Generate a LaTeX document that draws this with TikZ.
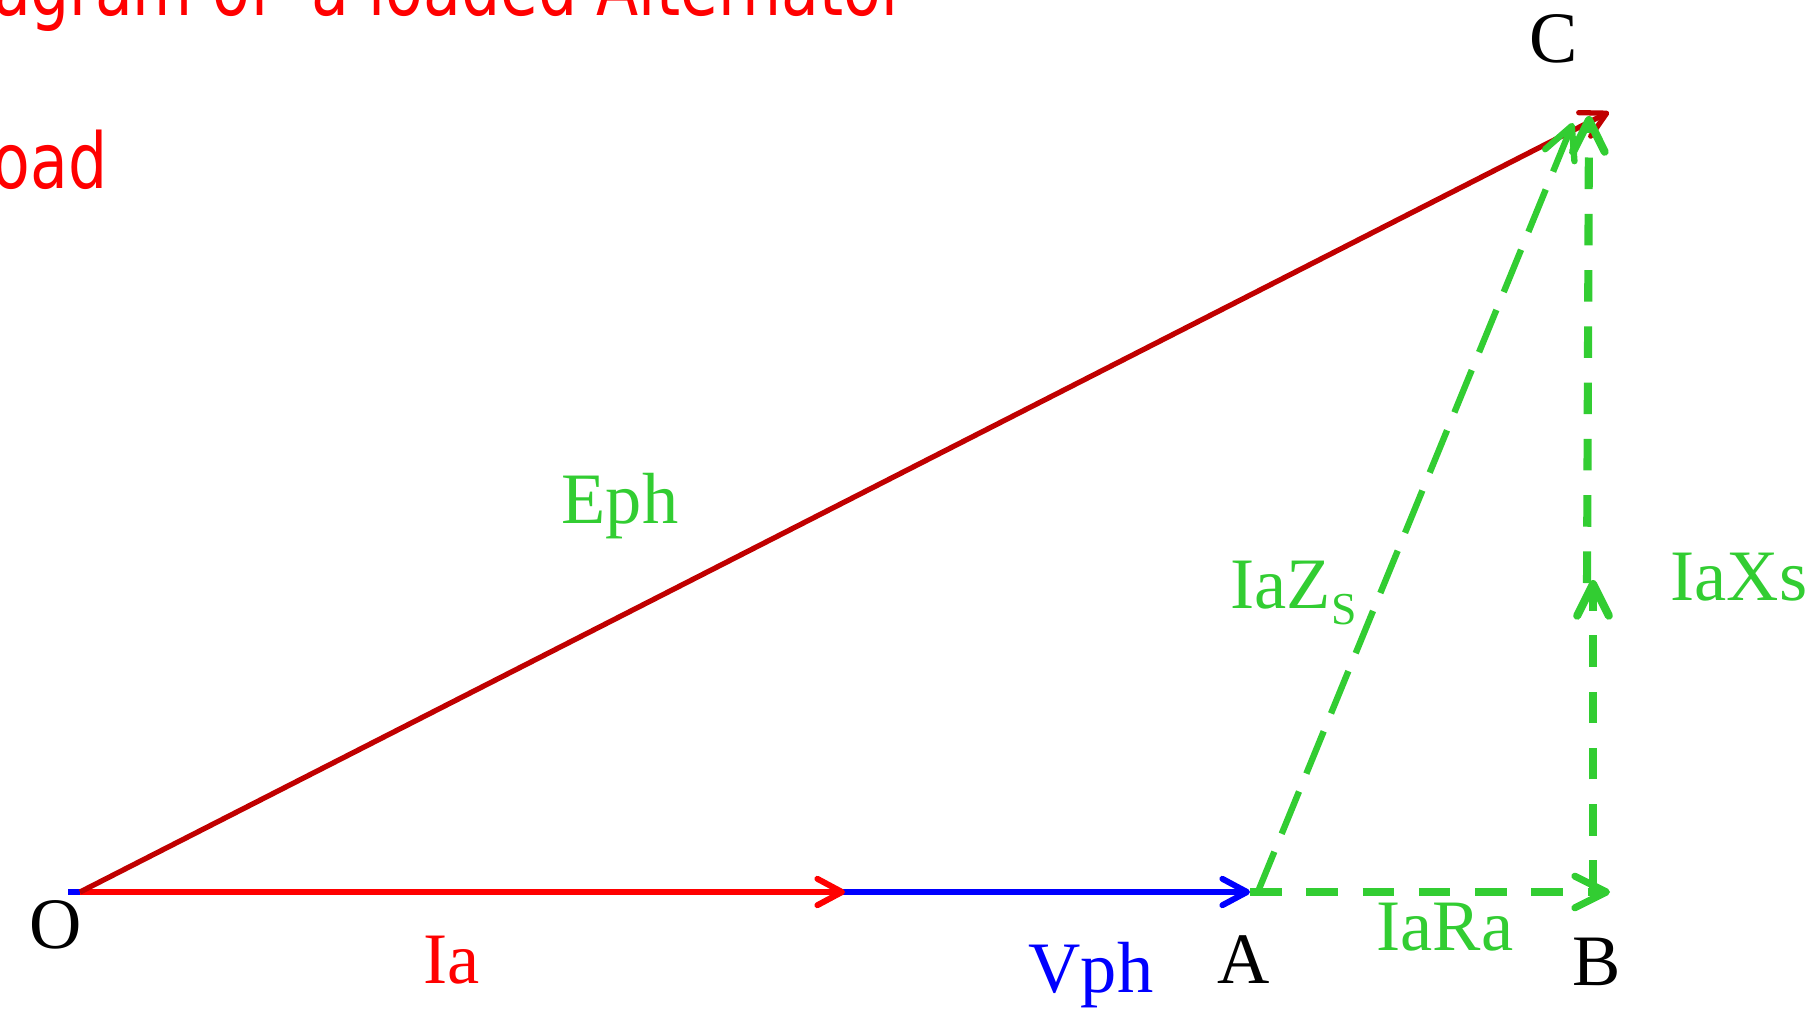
\documentclass[tikz,border=0pt]{standalone}
\usepackage{fontspec}
\usepackage{graphicx}
\setmainfont{Liberation Serif}
\newfontfamily\titlefont{DejaVu Sans}
\usetikzlibrary{arrows.meta}
\definecolor{verde}{RGB}{50,205,50}
\definecolor{rosso}{RGB}{255,0,0}
\definecolor{rossoscuro}{RGB}{192,0,0}
\definecolor{blu}{RGB}{0,0,255}
\begin{document}
\begin{tikzpicture}[x=0.01cm,y=-0.01cm,
    freccia/.style={-{Straight Barb[round,length=7pt,width=7.5pt]},line width=1.7pt},
    tratteggio/.style={-{Straight Barb[round,length=9pt,width=9pt]},verde,line width=2pt,dash pattern=on 9pt off 7pt},
    etichetta/.style={font=\fontsize{20.6}{24}\selectfont,inner sep=0pt,anchor=base},
    titolo/.style={font=\titlefont\fontsize{21.9}{26}\selectfont,text=rosso,inner sep=0pt,anchor=base east}]
    \useasboundingbox (0,0) rectangle (1817,1008);
    \clip (0,0) rectangle (1817,1008);
            %titolo tagliato
            \node[titolo] (tit1) at (907,15) {\scalebox{0.8}[1]{Diagram of~~a loaded Alternator}};
            \node[titolo] (tit2) at (108,188) {\scalebox{0.8}[1]{Load}};
            %punti
            \coordinate (O) at (68,892);
            \coordinate (O1) at (80,892);
            \coordinate (I) at (845,892);
            \coordinate (A) at (1250,892);
            \coordinate (A1) at (1257,894);
            \coordinate (B) at (1610,892);
            \coordinate (B1) at (1593,892);
            \coordinate (M) at (1593,580);
            \coordinate (M1) at (1587,583);
            \coordinate (C) at (1609,112);
            \coordinate (C1) at (1573,123);
            \coordinate (C2) at (1589,116);
            %disegno Vph
            \draw[freccia,blu] (O) -- (A);
            %disegno Ia
            \draw[freccia,rosso] (O1) -- (I);
            %disegno Eph
            \draw[freccia,rossoscuro,line width=1.5pt] (O1) -- (C);
            %disegno cadute
            \draw[tratteggio] (A) -- (B);
            \draw[tratteggio,line width=1.8pt,dash pattern=on 13pt off 5.5pt] (A1) -- (C1);
            \draw[tratteggio,line width=2.3pt] (B1) -- (M);
            \draw[tratteggio,line width=2.3pt] (M1) -- (C2);
            %etichette
            \node[etichetta] (lC) at (1554,62) {C};
            \node[etichetta] (lO) at (56,948) {O};
            \node[etichetta] (lA) at (1244,983) {A};
            \node[etichetta] (lB) at (1597,985) {B};
            \node[etichetta,text=rosso] (lIa) at (452,983) {Ia};
            \node[etichetta,text=blu] (lVph) at (1091,992) {Vph};
            \node[etichetta,text=verde] (lIaRa) at (1445,950) {IaRa};
            \node[etichetta,text=verde] (lIaXs) at (1739,600) {IaXs};
            \node[etichetta,text=verde,anchor=base west] (lIaZs) at (1230,608)
                {IaZ\raisebox{-4.8pt}{\fontsize{13}{13}\selectfont S}};
            \node[etichetta,text=verde] (lEph) at (620,523) {Eph};
\end{tikzpicture}
\end{document}
